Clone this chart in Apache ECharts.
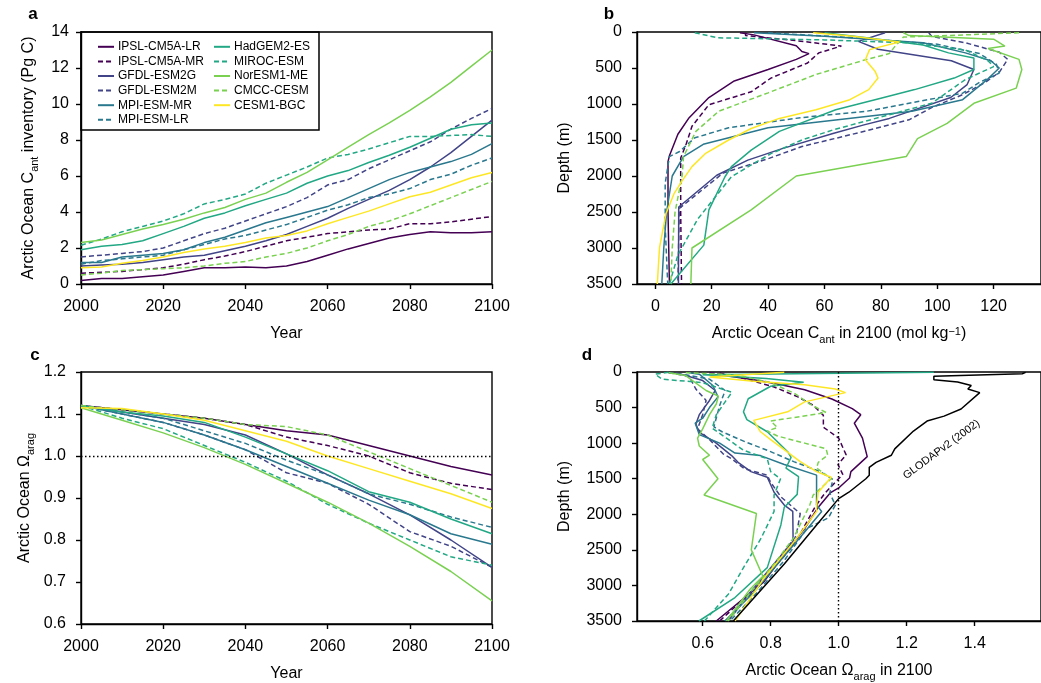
<!DOCTYPE html>
<html>
<head>
<meta charset="utf-8">
<script src="https://cdn.jsdelivr.net/npm/echarts@6/dist/echarts.min.js"></script>
<style>html,body{margin:0;padding:0;background:#fff;}#c{width:1041px;height:683px;}</style>
</head>
<body>
<div id="c"></div>
<script>
// ---------- DATA ----------
const modelNames = ['IPSL-CM5A-LR','IPSL-CM5A-MR','GFDL-ESM2G','GFDL-ESM2M','MPI-ESM-MR','MPI-ESM-LR','HadGEM2-ES','MIROC-ESM','NorESM1-ME','CMCC-CESM','CESM1-BGC'];
const modelColors = ['#440154','#440154','#414487','#414487','#2a788e','#2a788e','#22a884','#22a884','#7ad151','#7ad151','#fde725'];
const modelDashed = [false,true,false,true,false,true,false,true,false,true,false];

// Panel a: Arctic Ocean Cant inventory (Pg C), every 5 years
const yearsA = [2000,2005,2010,2015,2020,2025,2030,2035,2040,2045,2050,2055,2060,2065,2070,2075,2080,2085,2090,2095,2100];
const invIPSL_LR = [0.2,0.3,0.3,0.4,0.5,0.7,0.9,0.9,0.95,0.9,1.0,1.25,1.6,1.95,2.25,2.55,2.75,2.9,2.85,2.85,2.9];
const invIPSL_MR = [0.6,0.65,0.7,0.8,0.9,1.1,1.35,1.55,1.8,2.1,2.4,2.6,2.8,2.9,3.0,3.05,3.35,3.35,3.45,3.6,3.75];
const invGFDL_2G = [1.0,1.05,1.1,1.2,1.35,1.5,1.6,1.85,2.1,2.4,2.75,3.2,3.65,4.2,4.7,5.2,5.8,6.5,7.3,8.2,9.1];
const invGFDL_2M = [1.5,1.6,1.7,1.8,2.0,2.4,2.8,3.1,3.5,3.9,4.3,4.8,5.5,5.8,6.4,6.9,7.4,7.9,8.6,9.2,9.75];
const invMPI_MR  = [1.2,1.2,1.5,1.6,1.7,1.9,2.3,2.6,3.0,3.4,3.7,4.0,4.3,4.8,5.3,5.8,6.2,6.5,6.8,7.2,7.8];
const invMPI_LR  = [1.1,1.3,1.4,1.5,1.6,1.9,2.2,2.5,2.7,3.0,3.3,3.7,4.1,4.4,4.8,5.0,5.3,5.8,6.1,6.6,7.0];
const invHadGEM  = [1.9,2.1,2.2,2.4,2.8,3.2,3.65,3.95,4.35,4.7,5.05,5.6,6.0,6.3,6.75,7.15,7.6,8.1,8.6,8.85,8.95];
const invMIROC   = [2.15,2.5,2.9,3.2,3.5,3.9,4.45,4.7,5.0,5.6,6.05,6.5,7.0,7.2,7.5,7.85,8.2,8.2,8.25,8.3,8.2];
const invNorESM  = [2.3,2.45,2.75,3.05,3.3,3.6,3.95,4.25,4.7,5.05,5.65,6.2,6.9,7.6,8.3,8.95,9.65,10.4,11.2,12.1,13.0];
const invCMCC    = [0.5,0.6,0.75,0.8,0.85,0.9,1.0,1.15,1.25,1.5,1.7,2.0,2.4,2.75,3.2,3.5,3.9,4.35,4.8,5.25,5.7];
const invCESM    = [0.9,0.95,1.15,1.3,1.5,1.75,1.95,2.1,2.3,2.55,2.7,2.95,3.35,3.7,4.05,4.45,4.85,5.1,5.5,5.9,6.2];
const invAll = [invIPSL_LR,invIPSL_MR,invGFDL_2G,invGFDL_2M,invMPI_MR,invMPI_LR,invHadGEM,invMIROC,invNorESM,invCMCC,invCESM];

// Panel c: Arctic Ocean Omega arag, every 10 years
const yearsC = [2000,2010,2020,2030,2040,2050,2060,2070,2080,2090,2100];
const omIPSL_LR = [1.12,1.11,1.10,1.09,1.075,1.06,1.05,1.025,1.0,0.975,0.955];
const omIPSL_MR = [1.12,1.11,1.10,1.09,1.075,1.045,1.025,1.0,0.96,0.935,0.92];
const omGFDL_2G = [1.12,1.105,1.09,1.075,1.05,1.005,0.955,0.91,0.86,0.80,0.735];
const omGFDL_2M = [1.12,1.10,1.08,1.05,1.015,0.96,0.935,0.885,0.82,0.785,0.735];
const omMPI_MR  = [1.12,1.10,1.08,1.05,1.015,0.975,0.935,0.895,0.86,0.815,0.79];
const omMPI_LR  = [1.12,1.105,1.09,1.06,1.03,0.99,0.955,0.91,0.885,0.855,0.83];
const omHadGEM  = [1.12,1.105,1.095,1.08,1.045,1.005,0.965,0.915,0.89,0.85,0.815];
const omMIROC   = [1.12,1.09,1.065,1.025,0.985,0.94,0.885,0.84,0.80,0.76,0.74];
const omNorESM  = [1.115,1.085,1.055,1.02,0.98,0.935,0.89,0.84,0.785,0.725,0.655];
const omCMCC    = [1.12,1.11,1.10,1.09,1.075,1.07,1.05,1.01,0.97,0.93,0.89];
const omCESM    = [1.115,1.113,1.10,1.085,1.06,1.035,1.0,0.97,0.94,0.91,0.875];
const omAll = [omIPSL_LR,omIPSL_MR,omGFDL_2G,omGFDL_2M,omMPI_MR,omMPI_LR,omHadGEM,omMIROC,omNorESM,omCMCC,omCESM];

// Panel b: Cant profiles in 2100 (umol/kg) vs depth (m)
const bDepIPSL_LR = [10,40,190,270,300,380,520,680,910,1190,1420,1720,1800,2500,3500];
const bCanIPSL_LR = [30,35,50,52,54.5,50,40,28,19,12,8,5,4.5,4.5,5];
const bDepIPSL_MR = [10,50,120,195,290,430,640,830,1010,1310,1550,1750,2500,3500];
const bCanIPSL_MR = [32,32,50,66,58,54,41,34,19,13,11,9,9,9.3];
const bDepGFDL_2G = [10,130,240,400,520,730,910,1120,1200,1290,1410,1620,1780,1990,2430,3500];
const bCanGFDL_2G = [81.5,72,79,105,113,110.6,104.8,89,83,74,63,45,32.8,21.8,8.3,8.2];
const bDepGFDL_2M = [10,60,150,280,380,560,700,870,1050,1220,1400,1590,1760,1960,2450,3500];
const bCanGFDL_2M = [97,98,110,122,125,122,117,109,98,90,72,52,40,24,8.5,8];
const bDepMPI_MR  = [10,60,150,290,400,500,650,940,1100,1330,1560,1730,2000,2500,3000,3500];
const bCanMPI_MR  = [35,60,95,110,119,122,118,109,91,40,17,10,6,4,3,2.3];
const bDepMPI_LR  = [10,80,170,300,450,570,700,850,1100,1190,1330,1470,1660,1730,2100,2700,3500];
const bCanMPI_LR  = [40,70,100,115,121,122,115,109,75,51.5,26,14,8.6,5,3.5,3.5,4.4];
const bDepHadGEM  = [10,80,180,290,360,520,640,800,920,1080,1380,1640,1870,2010,2470,2960,3500];
const bCanHadGEM  = [60,75,95,104,113,113,106,92,80,64,44,34,27,24.7,19,17.2,5.5];
const bDepMIROC   = [10,80,110,150,250,400,480,660,990,1360,1500,1690,1870,2010,2600,3100,3500];
const bCanMIROC   = [14,22,60,90,110,118,120,110,98,63,52,41,33,27,15,8,5];
const bDepNorESM  = [10,50,100,195,230,380,520,780,990,1270,1480,1730,2000,2470,3000,3500];
const bCanNorESM  = [88,90,120,124,118,129,130,128,113,103.5,93,89,50,34,13,12.6];
const bDepCMCC    = [10,40,70,200,300,380,590,845,1100,1380,1730,2000,2500,3000,3500];
const bCanCMCC    = [129,110,88,85,83,75,57,40,22.5,14.4,10,9.5,7,6,5.5];
const bDepCESM    = [10,60,140,245,385,550,640,800,940,1080,1200,1340,1500,1690,1870,2060,2240,2520,2990,3500];
const bCanCESM    = [56,70,86.5,76,74.5,78,79,75.7,69,57,44,34,26,17.7,13,9.6,6.7,3.8,1.5,0.7];
const bDepAll = [bDepIPSL_LR,bDepIPSL_MR,bDepGFDL_2G,bDepGFDL_2M,bDepMPI_MR,bDepMPI_LR,bDepHadGEM,bDepMIROC,bDepNorESM,bDepCMCC,bDepCESM];
const bCanAll = [bCanIPSL_LR,bCanIPSL_MR,bCanGFDL_2G,bCanGFDL_2M,bCanMPI_MR,bCanMPI_LR,bCanHadGEM,bCanMIROC,bCanNorESM,bCanCMCC,bCanCESM];

// Panel d: Omega arag profiles in 2100 vs depth (m)
const dDepIPSL_LR = [10,60,110,170,250,380,515,600,720,930,1190,1400,1490,1630,1700,1900,2200,2500,2950,3500];
const dOmIPSL_LR  = [0.65,0.68,0.75,0.82,0.9,0.98,1.04,1.065,1.046,1.07,1.084,1.036,1.032,1.0,0.975,0.94,0.9,0.85,0.78,0.64];
const dDepIPSL_MR = [10,50,210,350,470,610,775,930,1165,1300,1440,1580,1700,1900,2250,2500,2950,3500];
const dOmIPSL_MR  = [0.62,0.69,0.81,0.88,0.926,0.955,0.955,1.0,1.022,0.998,1.012,0.984,0.96,0.93,0.89,0.855,0.775,0.65];
const dDepGFDL_2G = [10,50,120,260,400,600,730,850,990,1175,1270,1400,1480,1690,1870,1960,2380,2750,3100,3500];
const dOmGFDL_2G  = [0.52,0.55,0.6,0.637,0.62,0.59,0.58,0.59,0.637,0.685,0.704,0.742,0.79,0.81,0.84,0.865,0.866,0.8,0.74,0.675];
const dDepGFDL_2M = [10,60,240,400,600,800,950,1150,1220,1360,1450,1550,1755,1990,2300,2650,3100,3500];
const dOmGFDL_2M  = [0.5,0.56,0.58,0.61,0.6,0.585,0.62,0.66,0.685,0.723,0.79,0.8,0.83,0.887,0.875,0.82,0.745,0.67];
const dDepMPI_MR  = [10,30,190,350,500,650,720,880,1000,1140,1175,1300,1450,1700,1870,1960,2250,2700,3100,3500];
const dOmMPI_MR   = [0.56,0.59,0.63,0.645,0.62,0.6,0.578,0.59,0.65,0.695,0.77,0.84,0.935,0.935,0.935,0.95,0.9,0.82,0.75,0.665];
const dDepMPI_LR  = [10,40,100,260,470,770,840,980,1100,1260,1400,1510,1700,1870,2050,2200,2650,3100,3500];
const dOmMPI_LR   = [0.5,0.55,0.62,0.666,0.65,0.633,0.657,0.724,0.79,0.868,0.945,0.983,0.974,0.99,0.97,0.906,0.84,0.76,0.68];
const dDepHadGEM  = [5,40,90,145,200,376,560,670,840,1120,1200,1350,1470,1720,1900,2150,2750,3170,3500];
const dOmHadGEM   = [1.28,0.6,0.787,0.897,0.8,0.734,0.72,0.73,0.79,0.85,0.86,0.845,0.882,0.878,0.84,0.83,0.79,0.695,0.589];
const dDepMIROC   = [5,30,100,150,285,420,600,790,930,1100,1220,1400,1500,1730,1960,2335,2750,3120,3500];
const dOmMIROC    = [0.5,0.46,0.48,0.6,0.686,0.666,0.64,0.628,0.67,0.72,0.79,0.8,0.829,0.81,0.81,0.772,0.72,0.676,0.605];
const dDepNorESM  = [10,50,260,340,450,600,800,930,1040,1170,1230,1350,1500,1730,1990,2500,2870,3050,3500];
const dOmNorESM   = [0.5,0.55,0.61,0.646,0.64,0.62,0.6,0.585,0.59,0.62,0.6,0.62,0.645,0.604,0.758,0.743,0.777,0.74,0.67];
const dDepCMCC    = [10,40,150,300,450,570,690,780,830,900,1000,1080,1170,1270,1350,1500,1730,1870,2335,2700,3100,3500];
const dOmCMCC     = [0.55,0.7,0.8,0.87,0.915,0.963,0.8,0.82,0.79,0.82,0.9,0.963,0.968,0.94,0.935,0.978,0.925,0.915,0.867,0.81,0.74,0.675];
const dDepCESM    = [5,70,130,180,240,290,420,560,680,840,950,1260,1400,1480,1690,1870,1960,2380,2900,3500];
const dOmCESM     = [0.84,0.62,0.75,0.9,0.99,1.02,0.9,0.85,0.75,0.77,0.8,0.887,0.935,0.978,0.94,0.935,0.935,0.87,0.78,0.695];
const dDepAll = [dDepIPSL_LR,dDepIPSL_MR,dDepGFDL_2G,dDepGFDL_2M,dDepMPI_MR,dDepMPI_LR,dDepHadGEM,dDepMIROC,dDepNorESM,dDepCMCC,dDepCESM];
const dOmAll  = [dOmIPSL_LR,dOmIPSL_MR,dOmGFDL_2G,dOmGFDL_2M,dOmMPI_MR,dOmMPI_LR,dOmHadGEM,dOmMIROC,dOmNorESM,dOmCMCC,dOmCESM];

// GLODAPv2 (2002) observed profile
const gloDepth = [5,25,60,110,140,190,240,290,520,620,690,830,1080,1170,1270,1340,1450,1500,1690,1780,2150,2700,3500];
const gloOmega = [1.55,1.54,1.28,1.28,1.35,1.39,1.38,1.415,1.36,1.31,1.26,1.22,1.165,1.155,1.11,1.09,1.09,1.08,1.03,1.0,0.935,0.84,0.69];

// Tick labels
const ticksB = [0,20,40,60,80,100,120];
const ticksD = [0.6,0.8,1.0,1.2,1.4];

// ---------- CHART ----------
const FONT = "'Liberation Sans', Arial, sans-serif";
const chart = echarts.init(document.getElementById('c'), null, {renderer:'canvas'});

const richName = {
  t: {fontSize:16, lineHeight:16, verticalAlign:'top', fontFamily:FONT, color:'#000'},
  s: {fontSize:11, lineHeight:11, padding:[8,0,0,0], verticalAlign:'top', fontFamily:FONT, color:'#000'},
  p: {fontSize:11, lineHeight:11, padding:[0,0,8,0], verticalAlign:'top', fontFamily:FONT, color:'#000'}
};
const plain = v => String(v);
const fix1 = v => v.toFixed(1);
function lbl(margin, formatter, custom) {
  const o = {color:'#000', fontSize:16, fontFamily:FONT, margin:margin, formatter:formatter};
  if (custom) o.customValues = custom;
  return o;
}
function baseAxis(extra) {
  return Object.assign({
    type:'value',
    axisLine:{show:true, onZero:false, lineStyle:{color:'#000', width:1.4}},
    axisTick:{show:true, inside:false, length:5, lineStyle:{color:'#000', width:1.4}},
    splitLine:{show:false},
    nameLocation:'middle',
    nameTextStyle:{color:'#000', fontSize:16, fontFamily:FONT, rich:richName}
  }, extra);
}

const grids = [
  {left:81, top:32, width:411, height:252, show:true, borderColor:'#000', borderWidth:1.4},
  {left:637, top:32, width:412, height:252, show:true, borderColor:'#000', borderWidth:1.4},
  {left:81, top:372, width:411, height:252, show:true, borderColor:'#000', borderWidth:1.4},
  {left:637, top:372, width:412, height:252, show:true, borderColor:'#000', borderWidth:1.4}
];

const xAxes = [
  baseAxis({gridIndex:0, min:2000, max:2100, interval:20, name:'Year', nameGap:42, axisLabel:lbl(15, plain)}),
  baseAxis({gridIndex:1, min:-6.5, max:-6.5+412/2.875, name:'{t|Arctic Ocean C}{s|ant}{t| in 2100 (mol kg}{p|−1}{t|)}', nameGap:42,
    axisLabel:lbl(15, plain, ticksB),
    axisTick:{show:true, length:5, lineStyle:{color:'#000', width:1.4}, customValues:ticksB}}),
  baseAxis({gridIndex:2, min:2000, max:2100, interval:20, name:'Year', nameGap:42, axisLabel:lbl(15, plain)}),
  baseAxis({gridIndex:3, min:0.4068, max:0.4068+412/346.7, name:'{t|Arctic Ocean Ω}{s|arag}{t| in 2100}', nameGap:42,
    axisLabel:lbl(15, fix1, ticksD),
    axisTick:{show:true, length:5, lineStyle:{color:'#000', width:1.4}, customValues:ticksD}})
];
const yAxes = [
  baseAxis({gridIndex:0, min:0, max:14, interval:2, name:'{t|Arctic Ocean C}{s|ant}{t| inventory (Pg C)}', nameGap:44, axisLabel:lbl(12, plain)}),
  baseAxis({gridIndex:1, min:0, max:3500, interval:500, inverse:true, name:'Depth (m)', nameGap:64, axisLabel:lbl(15, plain)}),
  baseAxis({gridIndex:2, min:0.6, max:1.2, interval:0.1, name:'{t|Arctic Ocean Ω}{s|arag}', nameGap:48, axisLabel:lbl(15, fix1)}),
  baseAxis({gridIndex:3, min:0, max:3500, interval:500, inverse:true, name:'Depth (m)', nameGap:64, axisLabel:lbl(15, plain)})
];

function lineStyleFor(i) {
  return {color:modelColors[i], width:1.5, type: modelDashed[i] ? [5,3] : 'solid'};
}
const series = [];
modelNames.forEach((name, i) => {
  const common = {type:'line', name:name, symbol:'none', showSymbol:false, lineStyle:lineStyleFor(i),
    itemStyle:{color:modelColors[i]}, animation:false, silent:true};
  series.push(Object.assign({}, common, {xAxisIndex:0, yAxisIndex:0, data: yearsA.map((y,k)=>[y, invAll[i][k]])}));
  series.push(Object.assign({}, common, {xAxisIndex:1, yAxisIndex:1, data: bCanAll[i].map((v,k)=>[v, bDepAll[i][k]])}));
  const cs = Object.assign({}, common, {xAxisIndex:2, yAxisIndex:2, data: yearsC.map((y,k)=>[y, omAll[i][k]])});
  if (i === 0) {
    cs.markLine = {silent:true, symbol:'none', label:{show:false}, animation:false,
      lineStyle:{color:'#000', type:[1.5,2.5], width:1.4}, data:[{yAxis:1.0}]};
  }
  series.push(cs);
  series.push(Object.assign({}, common, {xAxisIndex:3, yAxisIndex:3, data: dOmAll[i].map((v,k)=>[v, dDepAll[i][k]])}));
});
series.push({type:'line', name:'GLODAPv2 (2002)', xAxisIndex:3, yAxisIndex:3, symbol:'none', showSymbol:false,
  animation:false, silent:true, lineStyle:{color:'#000', width:1.5}, itemStyle:{color:'#000'},
  data: gloOmega.map((v,k)=>[v, gloDepth[k]]),
  markLine:{silent:true, symbol:'none', label:{show:false}, animation:false,
    lineStyle:{color:'#000', type:[1.5,2.5], width:1.4}, data:[{xAxis:1.0}]}});

const legendCommon = {orient:'vertical', padding:0, itemGap:0, itemWidth:16, itemHeight:10,
  itemStyle:{color:'rgba(0,0,0,0)', borderWidth:0, opacity:0},
  textStyle:{fontSize:12, fontFamily:FONT, color:'#000', lineHeight:14.6, padding:[0,0,0,-1]}, selectedMode:false};

const option = {
  animation:false,
  backgroundColor:'#fff',
  grid: grids,
  xAxis: xAxes,
  yAxis: yAxes,
  legend: [
    Object.assign({left:97, top:39.5, data: modelNames.slice(0,6)}, legendCommon),
    Object.assign({left:213, top:39.5, data: modelNames.slice(6)}, legendCommon)
  ],
  graphic: [
    {type:'rect', shape:{x:81, y:32, width:238, height:98}, style:{fill:'none', stroke:'#000', lineWidth:1.5}, z:10},
    {type:'text', x:33, y:14, style:{text:'a', fontSize:17, fontWeight:'bold', fontFamily:FONT, fill:'#000', align:'center', verticalAlign:'middle'}},
    {type:'text', x:609, y:14, style:{text:'b', fontSize:17, fontWeight:'bold', fontFamily:FONT, fill:'#000', align:'center', verticalAlign:'middle'}},
    {type:'text', x:35, y:355, style:{text:'c', fontSize:17, fontWeight:'bold', fontFamily:FONT, fill:'#000', align:'center', verticalAlign:'middle'}},
    {type:'text', x:587, y:355, style:{text:'d', fontSize:17, fontWeight:'bold', fontFamily:FONT, fill:'#000', align:'center', verticalAlign:'middle'}},
    {type:'text', x:941.5, y:449.5, rotation:0.637, style:{text:'GLODAPv2 (2002)', fontSize:11, fontFamily:FONT, fill:'#000', align:'center', verticalAlign:'middle'}}
  ],
  series: series
};
chart.setOption(option);
</script>
</body>
</html>
